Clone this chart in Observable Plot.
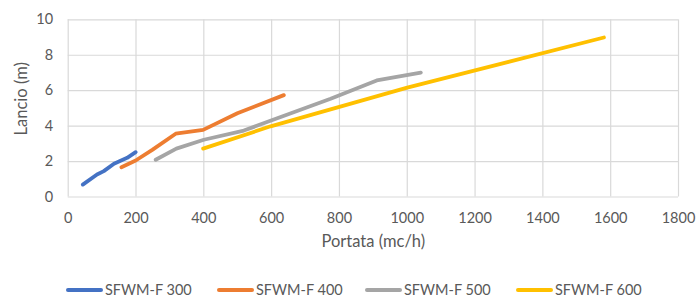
<!DOCTYPE html>
<html>
<head>
<meta charset="utf-8">
<script src="https://cdn.jsdelivr.net/npm/d3@7"></script>
<script src="https://cdn.jsdelivr.net/npm/@observablehq/plot@0.6"></script>
<style>
  html, body { margin: 0; padding: 0; background: #fff; overflow: hidden; }
  #wrap { position: relative; width: 700px; height: 299px; font-family: Lato, "Open Sans", sans-serif; }
  #legend { position: absolute; left: 0; top: 281px; width: 700px; height: 18px; }
  .item { position: absolute; top: 0; display: flex; align-items: center; height: 18px; font-size: 14.5px; line-height: 18px; color: #595959; }
  .sw { display: inline-block; width: 37px; height: 4px; border-radius: 2px; margin-right: 2px; }
</style>
</head>
<body>
<div id="wrap"><div id="legend"></div></div>
<script>
const seriesNames = ["SFWM-F 300", "SFWM-F 400", "SFWM-F 500", "SFWM-F 600"];
const seriesColors = ["#4472C4", "#ED7D31", "#A5A5A5", "#FFC000"];

const q300 = [43, 85, 105, 135, 174, 199];
const h300 = [0.70, 1.27, 1.46, 1.88, 2.21, 2.53];
const q400 = [157, 199, 248, 317, 398, 499, 636];
const h400 = [1.68, 2.06, 2.66, 3.57, 3.79, 4.73, 5.75];
const q500 = [258, 319, 400, 518, 774, 910, 1040];
const h500 = [2.10, 2.73, 3.23, 3.75, 5.54, 6.58, 7.02];
const q600 = [398, 597, 1000, 1580];
const h600 = [2.73, 3.99, 6.17, 9.00];

const xTicks = [0, 200, 400, 600, 800, 1000, 1200, 1400, 1600, 1800];
const yTicks = [0, 2, 4, 6, 8, 10];
const xLabel = "Portata (mc/h)";
const yLabel = "Lancio (m)";

const qs = [q300, q400, q500, q600];
const hs = [h300, h400, h500, h600];
const data = [];
seriesNames.forEach((name, i) => {
  qs[i].forEach((q, j) => data.push({ series: name, q, h: hs[i][j] }));
});

const H = 299;
const plotBottom = 196.5;
const chart = Plot.plot({
  width: 700,
  height: H,
  marginLeft: 67.7,
  marginRight: 22,
  marginTop: 19.3,
  marginBottom: H - plotBottom,
  style: { fontFamily: "Lato, 'Open Sans', sans-serif", fontSize: "14px", color: "#595959", background: "#fff" },
  x: { domain: [0, 1800] },
  y: { domain: [0, 10] },
  color: { domain: seriesNames, range: seriesColors },
  marks: [
    Plot.ruleX(xTicks, { stroke: "#d9d9d9", strokeWidth: 1.2, strokeOpacity: 1 }),
    Plot.ruleY(yTicks, { stroke: "#d9d9d9", strokeWidth: 1.2, strokeOpacity: 1 }),
    Plot.axisX(xTicks, { tickSize: 0, tickPadding: 16, label: null, tickFormat: d => String(d), fill: "#595959", fontSize: 14.5 }),
    Plot.axisY(yTicks, { tickSize: 0, tickPadding: 15, label: null, tickFormat: d => String(d), fill: "#595959", fontSize: 14.5 }),
    Plot.text([xLabel], { frameAnchor: "bottom", text: d => d, dy: 49.5, fill: "#595959", fontSize: 16.5 }),
    Plot.text([yLabel], { frameAnchor: "left", text: d => d, rotate: -90, dx: -46, dy: 27, fill: "#595959", fontSize: 16.5 }),
    Plot.line(data, { x: "q", y: "h", z: "series", stroke: "series", strokeWidth: 3.8, strokeLinecap: "round", strokeLinejoin: "round" })
  ]
});
document.getElementById("wrap").prepend(chart);

const legend = document.getElementById("legend");
const lefts = [66, 217, 365, 516];
seriesNames.forEach((name, i) => {
  const it = document.createElement("div");
  it.className = "item";
  it.style.left = lefts[i] + "px";
  const sw = document.createElement("span");
  sw.className = "sw";
  sw.style.background = seriesColors[i];
  const t = document.createElement("span");
  t.textContent = name;
  it.appendChild(sw);
  it.appendChild(t);
  legend.appendChild(it);
});
</script>
</body>
</html>
